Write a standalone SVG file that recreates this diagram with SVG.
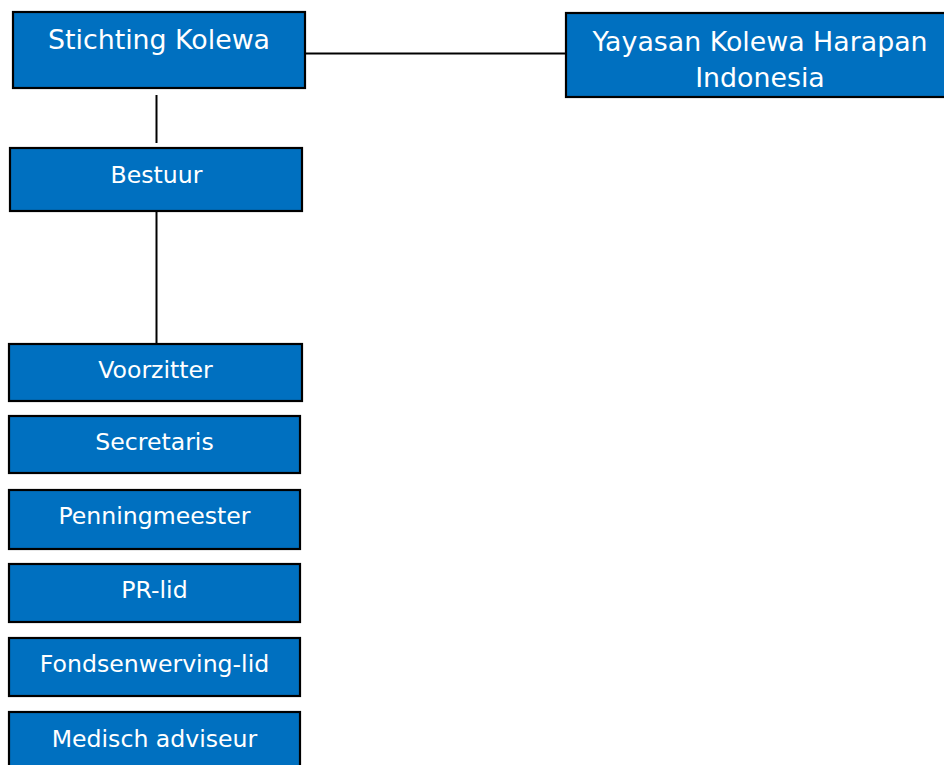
<svg xmlns="http://www.w3.org/2000/svg" width="944" height="765" viewBox="0 0 944 765">
<style>
.box{fill:#0070C0;stroke:#000;stroke-width:2.2}
.t{font-family:"DejaVu Sans",Verdana,sans-serif;fill:#fff;text-anchor:middle}
.big{font-size:26.8px}
.sm{font-size:23.6px}
.c{stroke:#000;stroke-width:2;fill:none}
</style>
<rect width="944" height="765" fill="#fff"/>
<g id="connectors">
<line class="c" x1="305" y1="53.5" x2="566" y2="53.5"/>
<line class="c" x1="156.5" y1="95" x2="156.5" y2="143"/>
<line class="c" x1="156.5" y1="211" x2="156.5" y2="343"/>
</g>
<g id="stichting">
<rect class="box" x="13" y="12" width="292" height="76"/>
<text class="t big" x="159" y="49">Stichting Kolewa</text>
</g>
<g id="yayasan">
<rect class="box" x="566" y="13" width="384" height="84"/>
<text class="t big" x="760" y="51">Yayasan Kolewa Harapan</text>
<text class="t big" x="760" y="87">Indonesia</text>
</g>
<g id="bestuur">
<rect class="box" x="10" y="148" width="292" height="63"/>
<text class="t sm" x="156.5" y="183">Bestuur</text>
</g>
<g id="voorzitter">
<rect class="box" x="9" y="344" width="293" height="57"/>
<text class="t sm" x="155.5" y="378">Voorzitter</text>
</g>
<g id="secretaris">
<rect class="box" x="9" y="416" width="291" height="57"/>
<text class="t sm" x="154.5" y="450">Secretaris</text>
</g>
<g id="penningmeester">
<rect class="box" x="9" y="490" width="291" height="59"/>
<text class="t sm" x="154.5" y="524">Penningmeester</text>
</g>
<g id="prlid">
<rect class="box" x="9" y="564" width="291" height="58"/>
<text class="t sm" x="154.5" y="598">PR-lid</text>
</g>
<g id="fondsenwerving">
<rect class="box" x="9" y="638" width="291" height="58"/>
<text class="t sm" x="154.5" y="672">Fondsenwerving-lid</text>
</g>
<g id="medisch">
<rect class="box" x="9" y="712" width="291" height="60"/>
<text class="t sm" x="154.5" y="747">Medisch adviseur</text>
</g>
</svg>
